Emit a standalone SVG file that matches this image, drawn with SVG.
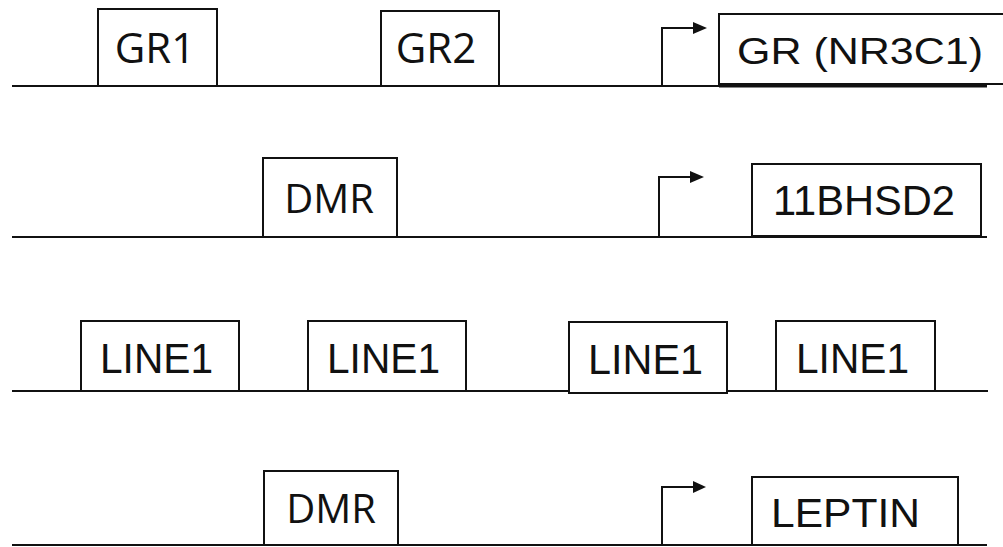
<svg xmlns="http://www.w3.org/2000/svg" width="1003" height="547" viewBox="0 0 1003 547">
<style>
.bx{fill:#fff;stroke:#111;stroke-width:2}
.ln{fill:none;stroke:#111;stroke-width:2}
.hd{fill:#111;stroke:none}
.c{font-family:"Open Sans","Liberation Sans",sans-serif;fill:#111}
.a{font-family:"Liberation Sans",Arial,sans-serif;fill:#111}
</style>
<rect width="1003" height="547" fill="#fff"/>
<g id="connectors">
<line class="ln" x1="12" y1="86" x2="987" y2="86"/>
<line x1="719" y1="86" x2="987" y2="86" stroke="#111" stroke-width="3"/>
<line class="ln" x1="12" y1="237" x2="987" y2="237"/>
<line class="ln" x1="12" y1="391" x2="988" y2="391"/>
<line class="ln" x1="12" y1="545" x2="987" y2="545"/>
<path class="ln" d="M662 86V28H695"/>
<polygon class="hd" points="693,22 707,28 693,34"/>
<path class="ln" d="M659 237V177H692"/>
<polygon class="hd" points="690,171 704,177 690,183"/>
<path class="ln" d="M662 545V487H695"/>
<polygon class="hd" points="693,481 706,487 693,493"/>
</g>
<g id="gr1"><rect class="bx" x="98" y="9" width="119" height="77"/><text class="c" x="155" y="63" font-size="42" text-anchor="middle">GR1</text></g>
<g id="gr2"><rect class="bx" x="381" y="11" width="118" height="75"/><text class="c" x="436" y="63" font-size="42" text-anchor="middle">GR2</text></g>
<g id="nr3c1"><rect class="bx" x="719" y="14" width="300" height="70"/><text class="a" x="737" y="64" font-size="36" textLength="246" lengthAdjust="spacingAndGlyphs">GR (NR3C1)</text></g>
<g id="dmr1"><rect class="bx" x="263" y="158" width="134" height="79"/><text class="c" x="329" y="213" font-size="40" text-anchor="middle">DMR</text></g>
<g id="hsd2"><rect class="bx" x="752" y="164" width="229" height="72"/><text class="a" x="773" y="215" font-size="42" textLength="182" lengthAdjust="spacingAndGlyphs">11BHSD2</text></g>
<g id="line1a"><rect class="bx" x="81" y="321" width="158" height="70"/><text class="a" x="100" y="373" font-size="43" textLength="113" lengthAdjust="spacingAndGlyphs">LINE1</text></g>
<g id="line1b"><rect class="bx" x="308" y="321" width="158" height="70"/><text class="a" x="327" y="373" font-size="43" textLength="113" lengthAdjust="spacingAndGlyphs">LINE1</text></g>
<g id="line1c"><rect class="bx" x="569" y="322" width="158" height="71"/><text class="a" x="588" y="374" font-size="43" textLength="115" lengthAdjust="spacingAndGlyphs">LINE1</text></g>
<g id="line1d"><rect class="bx" x="776" y="321" width="159" height="70"/><text class="a" x="796" y="373" font-size="43" textLength="113" lengthAdjust="spacingAndGlyphs">LINE1</text></g>
<g id="dmr2"><rect class="bx" x="264" y="471" width="134" height="74"/><text class="c" x="331" y="523" font-size="40" text-anchor="middle">DMR</text></g>
<g id="leptin"><rect class="bx" x="752" y="477" width="206" height="68"/><text class="a" x="771" y="527" font-size="40" textLength="149" lengthAdjust="spacingAndGlyphs">LEPTIN</text></g>
</svg>
